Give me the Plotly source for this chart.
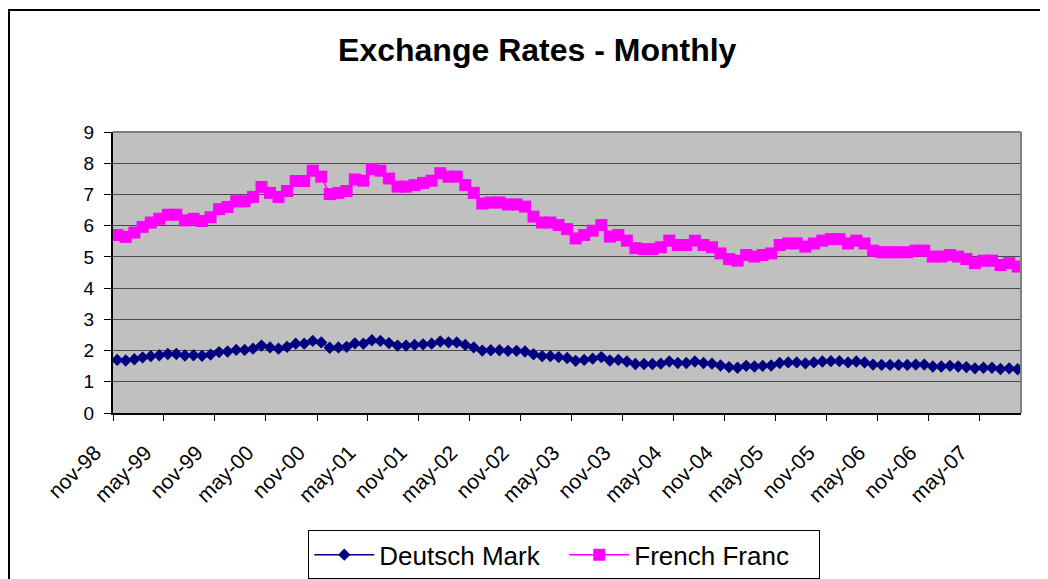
import plotly.graph_objects as go
import pandas as pd

# monthly observations, nov-98 .. sep-07
months = pd.date_range("1998-11-01", periods=107, freq="MS")

french_franc = [
    5.70, 5.64, 5.78, 5.96, 6.10, 6.22, 6.35, 6.35, 6.17, 6.22, 6.15, 6.27,
    6.53, 6.60, 6.78, 6.78, 6.92, 7.24, 7.05, 6.92, 7.11, 7.43, 7.43, 7.76,
    7.57, 7.01, 7.05, 7.11, 7.48, 7.44, 7.81, 7.76, 7.51, 7.25, 7.25, 7.30,
    7.37, 7.44, 7.68, 7.57, 7.57, 7.30, 7.05, 6.71, 6.74, 6.74, 6.68, 6.68,
    6.61, 6.29, 6.10, 6.10, 6.02, 5.89, 5.59, 5.70, 5.84, 6.02, 5.65, 5.70,
    5.52, 5.28, 5.25, 5.25, 5.31, 5.52, 5.38, 5.38, 5.52, 5.38, 5.31, 5.11,
    4.93, 4.88, 5.06, 5.01, 5.06, 5.11, 5.38, 5.43, 5.43, 5.33, 5.43, 5.52,
    5.57, 5.57, 5.43, 5.52, 5.43, 5.20, 5.15, 5.15, 5.15, 5.15, 5.20, 5.20,
    5.01, 5.01, 5.06, 5.01, 4.93, 4.80, 4.88, 4.88, 4.74, 4.80, 4.69,
]

deutsch_mark = [
    1.70, 1.68, 1.72, 1.78, 1.82, 1.85, 1.89, 1.89, 1.84, 1.85, 1.83, 1.87,
    1.95, 1.97, 2.02, 2.02, 2.06, 2.16, 2.10, 2.06, 2.12, 2.22, 2.22, 2.31,
    2.26, 2.09, 2.10, 2.12, 2.23, 2.22, 2.33, 2.31, 2.24, 2.16, 2.16, 2.18,
    2.20, 2.22, 2.29, 2.26, 2.26, 2.18, 2.10, 2.00, 2.01, 2.01, 1.99, 1.99,
    1.97, 1.88, 1.82, 1.82, 1.79, 1.76, 1.67, 1.70, 1.74, 1.79, 1.68, 1.70,
    1.65, 1.57, 1.57, 1.57, 1.58, 1.65, 1.60, 1.60, 1.65, 1.60, 1.58, 1.52,
    1.47, 1.45, 1.51, 1.49, 1.51, 1.52, 1.60, 1.62, 1.62, 1.59, 1.62, 1.65,
    1.66, 1.66, 1.62, 1.65, 1.62, 1.55, 1.54, 1.54, 1.54, 1.54, 1.55, 1.55,
    1.49, 1.49, 1.51, 1.49, 1.47, 1.43, 1.45, 1.45, 1.41, 1.43, 1.40,
]

tick_labels = [
    "nov-98", "may-99", "nov-99", "may-00", "nov-00", "may-01", "nov-01",
    "may-02", "nov-02", "may-03", "nov-03", "may-04", "nov-04", "may-05",
    "nov-05", "may-06", "nov-06", "may-07",
]
tick_dates = pd.date_range("1998-11-01", periods=len(tick_labels), freq="6MS")

font_family = "Liberation Sans, Arial, sans-serif"

fig = go.Figure()

fig.add_trace(go.Scatter(
    x=months, y=deutsch_mark, name="Deutsch Mark",
    mode="lines+markers", xperiod="M1", xperiodalignment="middle",
    line=dict(color="#000080", width=1.5),
    marker=dict(symbol="diamond", size=9.5, color="#000080"),
))
fig.add_trace(go.Scatter(
    x=months, y=french_franc, name="French Franc",
    mode="lines+markers", xperiod="M1", xperiodalignment="middle",
    line=dict(color="#FF00FF", width=1.5),
    marker=dict(symbol="square", size=12, color="#FF00FF"),
))

# the page body adds an 8px offset, margins are reduced for it
fig.update_layout(
    width=1048, height=579,
    margin=dict(l=105, r=35, t=124, b=174),
    paper_bgcolor="white",
    plot_bgcolor="#C0C0C0",
    font=dict(family=font_family, color="black"),
    title=dict(text="<b>Exchange Rates - Monthly</b>", x=0.505, xanchor="center",
               y=0.927, yanchor="middle", font=dict(size=32, family=font_family)),
    legend=dict(orientation="h", x=0.497, xanchor="center",
                yref="container", y=0.098, yanchor="top",
                bgcolor="white", bordercolor="black", borderwidth=1,
                font=dict(size=26), itemwidth=60,
                entrywidth=180, entrywidthmode="pixels"),
    showlegend=True,
)

fig.update_xaxes(
    range=["1998-11-01", "2007-09-28"],
    tickvals=tick_dates, ticktext=tick_labels, tickangle=-45,
    tickfont=dict(size=21),
    ticks="outside", ticklen=6, tickcolor="black",
    ticklabelstandoff=11, ticklabelshift=-18,
    showline=True, linecolor="black", linewidth=2,
    showgrid=False, zeroline=False, automargin=False,
)
fig.update_yaxes(
    range=[0, 9], dtick=1,
    tickfont=dict(size=19),
    ticks="outside", ticklen=7, tickcolor="black",
    ticklabelstandoff=6,
    showline=True, linecolor="black", linewidth=2,
    showgrid=True, gridcolor="#4a4a4a", gridwidth=1,
    zeroline=False, automargin=False,
)

# gray top and right edges of the plot area
fig.add_shape(type="line", xref="paper", yref="paper", x0=0, x1=1, y0=1, y1=1,
              line=dict(color="#808080", width=2))
fig.add_shape(type="line", xref="paper", yref="paper", x0=1, x1=1, y0=0, y1=1,
              line=dict(color="#808080", width=2))

# chart frame (runs past the right and bottom edges of the picture)
fig.add_shape(type="rect", xref="paper", yref="paper",
              xsizemode="pixel", ysizemode="pixel", xanchor=0, yanchor=1,
              x0=-104, x1=2000, y0=-2000, y1=122,
              line=dict(color="black", width=2), fillcolor="rgba(0,0,0,0)")

fig.write_html("out.html")
